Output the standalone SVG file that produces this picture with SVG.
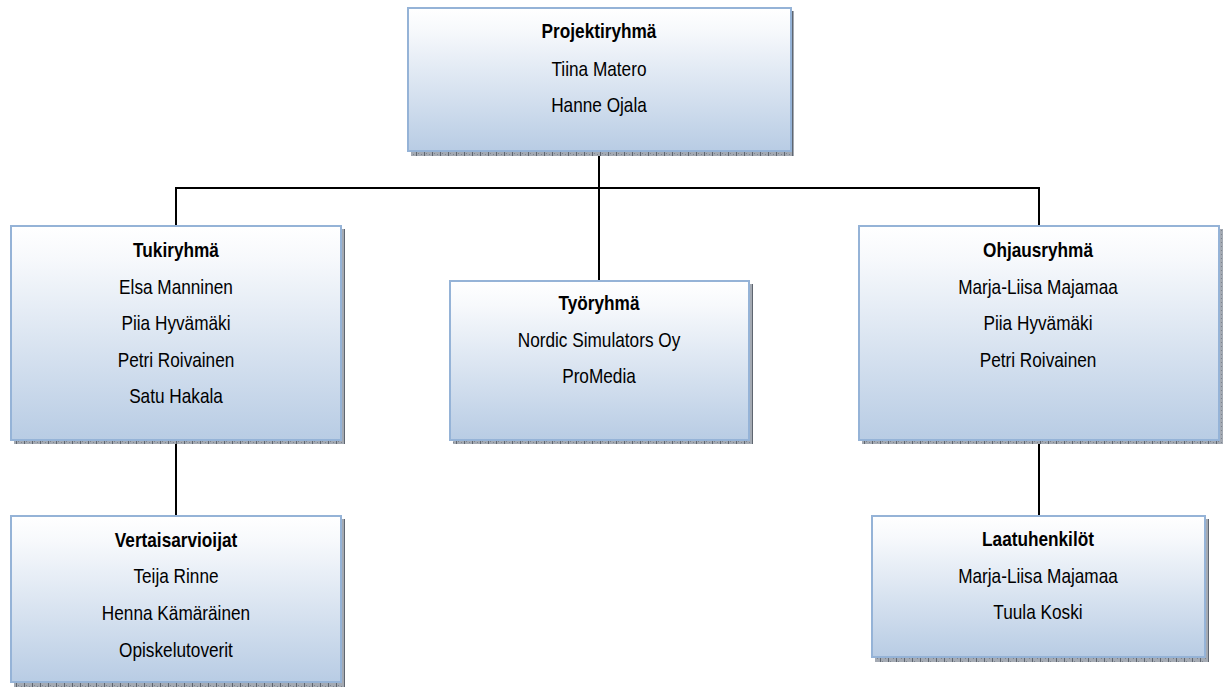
<svg xmlns="http://www.w3.org/2000/svg" width="1223" height="691" viewBox="0 0 1223 691">
<defs>
<linearGradient id="fill" x1="0" y1="0" x2="0" y2="1">
<stop offset="0" stop-color="#ffffff"/>
<stop offset="0.15" stop-color="#f7f9fc"/>
<stop offset="1" stop-color="#b8cce4"/>
</linearGradient>
<pattern id="shade" width="8" height="4" patternUnits="userSpaceOnUse">
<rect width="8" height="4" fill="#a4aab3"/>
<rect x="0" y="0" width="1" height="4" fill="#5f6670"/>
<rect x="2" y="1" width="1" height="1" fill="#7d848e"/>
<rect x="5" y="2" width="1" height="1" fill="#7d848e"/>
</pattern>
</defs>
<style>
.box{fill:url(#fill);stroke:#95b3d7;stroke-width:2}
.shadow{fill:url(#shade)}
.con{stroke:#000;stroke-width:2;fill:none}
text{font-family:"Liberation Sans Narrow","Arial Narrow","Liberation Sans",sans-serif;font-size:21px;fill:#000;text-anchor:middle}
.t{font-weight:bold}
</style>
<g id="connectors">
<line class="con" x1="599" y1="150" x2="599" y2="281"/>
<line class="con" x1="175" y1="188" x2="1039" y2="188"/>
<line class="con" x1="176" y1="187" x2="176" y2="225"/>
<line class="con" x1="1039" y1="187" x2="1039" y2="226"/>
<line class="con" x1="176" y1="440" x2="176" y2="515"/>
<line class="con" x1="1039" y1="440" x2="1039" y2="515"/>
</g>
<g id="projektiryhma">
<rect class="shadow" x="411" y="11" width="383" height="145"/>
<rect class="box" x="408" y="8" width="383" height="143"/>
<g transform="matrix(0.82 0 0 1 107.82 0)">
<text class="t" x="599" y="38">Projektiryhmä</text>
<text x="599" y="76">Tiina Matero</text>
<text x="599" y="112">Hanne Ojala</text>
</g>
</g>
<g id="tukiryhma">
<rect class="shadow" x="14" y="229" width="331" height="215"/>
<rect class="box" x="11" y="226" width="330" height="214"/>
<g transform="matrix(0.82 0 0 1 31.68 0)">
<text class="t" x="176" y="257">Tukiryhmä</text>
<text x="176" y="294">Elsa Manninen</text>
<text x="176" y="330">Piia Hyvämäki</text>
<text x="176" y="367">Petri Roivainen</text>
<text x="176" y="403">Satu Hakala</text>
</g>
</g>
<g id="tyoryhma">
<rect class="shadow" x="453" y="284" width="300" height="160"/>
<rect class="box" x="450" y="281" width="299" height="159"/>
<g transform="matrix(0.82 0 0 1 107.82 0)">
<text class="t" x="599" y="310">Työryhmä</text>
<text x="599" y="347">Nordic Simulators Oy</text>
<text x="599" y="383">ProMedia</text>
</g>
</g>
<g id="ohjausryhma">
<rect class="shadow" x="862" y="229" width="361" height="215"/>
<rect class="box" x="859" y="226" width="360" height="214"/>
<g transform="matrix(0.82 0 0 1 186.84 0)">
<text class="t" x="1038" y="257">Ohjausryhmä</text>
<text x="1038" y="294">Marja-Liisa Majamaa</text>
<text x="1038" y="330">Piia Hyvämäki</text>
<text x="1038" y="367">Petri Roivainen</text>
</g>
</g>
<g id="vertaisarvioijat">
<rect class="shadow" x="14" y="519" width="331" height="168"/>
<rect class="box" x="11" y="516" width="330" height="166"/>
<g transform="matrix(0.82 0 0 1 31.68 0)">
<text class="t" x="176" y="547">Vertaisarvioijat</text>
<text x="176" y="583">Teija Rinne</text>
<text x="176" y="620">Henna Kämäräinen</text>
<text x="176" y="657">Opiskelutoverit</text>
</g>
</g>
<g id="laatuhenkilot">
<rect class="shadow" x="875" y="519" width="334" height="143"/>
<rect class="box" x="872" y="516" width="333" height="141"/>
<g transform="matrix(0.82 0 0 1 186.84 0)">
<text class="t" x="1038" y="546">Laatuhenkilöt</text>
<text x="1038" y="583">Marja-Liisa Majamaa</text>
<text x="1038" y="619">Tuula Koski</text>
</g>
</g>
</svg>
